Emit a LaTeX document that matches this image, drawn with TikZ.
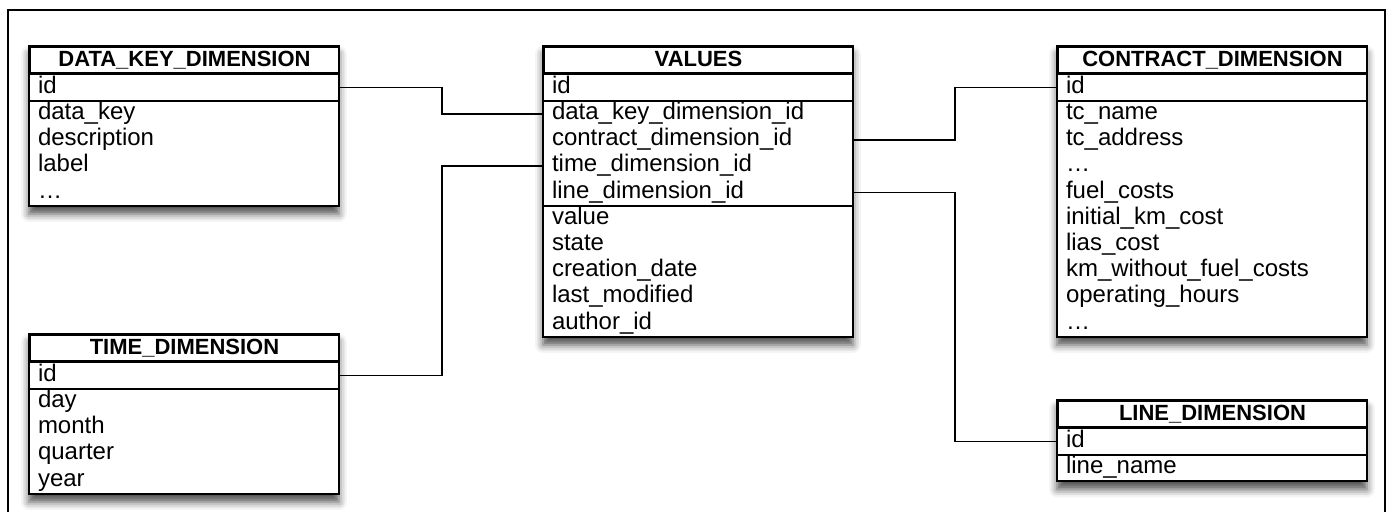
\documentclass[tikz,border=0pt]{standalone}
\usepackage{fontspec}
\setmainfont{Liberation Sans}
\usepackage{tikz}
\usetikzlibrary{backgrounds,shadows.blur}
% one table: name, top left corner, title, number of rows, rows
\newcommand{\dimtable}[5]{%
	\node[tblhead] (#1) at (#2) {#3};
	\foreach \f [count=\i] in {#5}
		\node[tblrow, yshift={-(\i-1)*13.1pt}] (#1-\i) at (#1.south west) {\f};
	\draw[tblline] (#1-1.north west) rectangle (#1-1.south east);
	\begin{scope}[on background layer]
		\draw[tblbox] (#1.north west) rectangle (#1-#4.south east);
	\end{scope}
}

\begin{document}
\begin{tikzpicture}[x=0.5pt, y=-0.5pt,
		tblhead/.style={draw, line width=1pt, anchor=north west, inner sep=0pt,
			minimum width=154.5pt, minimum height=13.1pt, font=\fontsize{11}{13}\selectfont\bfseries,
			text height=8.4pt, text depth=2.4pt},
		tblrow/.style={anchor=north west, inner xsep=4.3pt, inner ysep=0pt, text width=145.9pt,
			align=left, minimum height=13.1pt, font=\fontsize{12}{13}\selectfont,
			text height=8.6pt, text depth=3pt},
		tblline/.style={line width=1pt},
		tblbox/.style={line width=1pt, fill=white,
			blur shadow={shadow xshift=0pt, shadow yshift=-4pt, shadow blur radius=4pt, shadow opacity=70}},
		link/.style={line width=0.8pt}]
			%%%%% START %%%%%
			\useasboundingbox (0,0) rectangle (1386,512);
			\draw[line width=0.6pt] (8,520) -- (8,10) -- (1385,10) -- (1385,520);
			
			\dimtable{dk}{29,46}{DATA\_KEY\_DIMENSION}{5}{id, data\_key, description, label, \ldots}
			\dimtable{t}{29,334}{TIME\_DIMENSION}{5}{id, day, month, quarter, year}
			\dimtable{v}{543,46}{VALUES}{10}{id, data\_key\_dimension\_id, contract\_dimension\_id,
				time\_dimension\_id, line\_dimension\_id, value, state, creation\_date, last\_modified, author\_id}
			\draw[tblline] (v-5.south west) -- (v-5.south east);
			\dimtable{c}{1057,46}{CONTRACT\_DIMENSION}{10}{id, tc\_name, tc\_address, \ldots, fuel\_costs,
				initial\_km\_cost, lias\_cost, km\_without\_fuel\_costs, operating\_hours, \ldots}
			\dimtable{l}{1057,400}{LINE\_DIMENSION}{2}{id, line\_name}
			
			\draw[link] (dk-1.east) -- ++(103,0) |- (v-2.west);
			\draw[link] (t-1.east) -- ++(103,0) |- (v-4.west);
			\draw[link] (v-3.east) -- ++(102,0) |- (c-1.west);
			\draw[link] (v-5.east) -- ++(102,0) |- (l-1.west);
			%%%%% END %%%%%
\end{tikzpicture}
\end{document}
